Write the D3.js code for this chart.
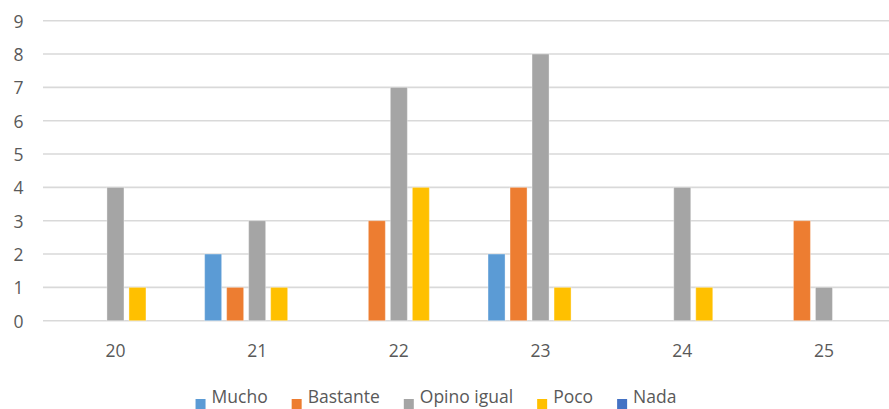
<!DOCTYPE html>
<html>
<head>
<meta charset="utf-8">
<script src="https://cdn.jsdelivr.net/npm/d3@7"></script>
<style>
  html, body { margin: 0; padding: 0; background: #fff; }
  svg { display: block; }
  text { font-family: "Open Sans", "Noto Sans", sans-serif; fill: #595959; }
</style>
</head>
<body>
<svg id="chart" width="889" height="409"></svg>
<script>
const categories = ["20", "21", "22", "23", "24", "25"];
const seriesNames = ["Mucho", "Bastante", "Opino igual", "Poco", "Nada"];
const seriesColors = ["#5B9BD5", "#ED7D31", "#A5A5A5", "#FFC000", "#4472C4"];
const mucho      = [0, 2, 0, 2, 0, 0];
const bastante   = [0, 1, 3, 4, 0, 3];
const opinoIgual = [4, 3, 7, 8, 4, 1];
const poco       = [1, 1, 4, 1, 1, 0];
const nada       = [0, 0, 0, 0, 0, 0];
const yTicks = [0, 1, 2, 3, 4, 5, 6, 7, 8, 9];

const seriesValues = [mucho, bastante, opinoIgual, poco, nada];
const rows = categories.map((c, i) => ({
  cat: c,
  vals: seriesNames.map((s, j) => ({ key: s, value: seriesValues[j][i], color: seriesColors[j] }))
}));

const svg = d3.select("#chart");
const W = 889, H = 409;
const plotLeft = 44.6, plotRight = 894.8, plotTop = 20.7, plotBottom = 320.7;

const x0 = d3.scaleBand().domain(categories).range([plotLeft, plotRight])
  .paddingInner(0.2235).paddingOuter(0.11175);
const x1 = d3.scaleBand().domain(seriesNames).range([0, x0.bandwidth()])
  .paddingInner(0.227).paddingOuter(0.1135);
const y = d3.scaleLinear().domain([0, 9]).range([plotBottom, plotTop]);

// gridlines
svg.append("g").selectAll("line").data(yTicks).join("line")
  .attr("x1", 43).attr("x2", W)
  .attr("y1", d => y(d)).attr("y2", d => y(d))
  .attr("stroke", "#D9D9D9").attr("stroke-width", 1.6);

// y axis labels
const yAxis = d3.axisLeft(y).tickValues(yTicks).tickSize(0).tickPadding(0);
const yg = svg.append("g").attr("transform", "translate(23.5,0)").call(yAxis);
yg.select(".domain").remove();
yg.selectAll("text").attr("font-size", 17.5).style("font-family", "'Open Sans', sans-serif").attr("fill", "#595959").attr("dy", "0.36em");

// bars
const groups = svg.append("g").selectAll("g").data(rows).join("g")
  .attr("transform", d => `translate(${x0(d.cat)},0)`);
groups.selectAll("rect").data(d => d.vals.filter(v => v.value > 0)).join("rect")
  .attr("x", d => x1(d.key))
  .attr("width", x1.bandwidth())
  .attr("y", d => y(d.value))
  .attr("height", d => y(0) - y(d.value))
  .attr("fill", d => d.color)
  .attr("stroke", "#ffffff").attr("stroke-opacity", 0.35).attr("stroke-width", 1);

// x axis labels
const xAxis = d3.axisBottom(x0).tickSize(0).tickPadding(0);
const xg = svg.append("g").attr("transform", `translate(0,${plotBottom})`).call(xAxis);
xg.select(".domain").remove();
xg.selectAll("text").attr("font-size", 17.5).style("font-family", "'Open Sans', sans-serif").attr("fill", "#595959")
  .attr("dy", null).attr("y", 36);

// legend
const legend = svg.append("g");
const items = legend.selectAll("g").data(seriesNames).join("g");
items.append("rect").attr("width", 10).attr("height", 10).attr("y", 399)
  .attr("fill", (d, i) => seriesColors[i]);
items.append("text").attr("x", 16).attr("y", 403).attr("font-size", 17.5).text(d => d);
let cx = 0;
const gap = 24;
items.each(function() {
  const g = d3.select(this);
  g.attr("transform", `translate(${cx},0)`);
  const w = g.select("text").node().getComputedTextLength();
  cx += 16 + w + gap;
});
const totalW = cx - gap;
legend.attr("transform", `translate(${436 - totalW / 2},0)`);
</script>
</body>
</html>
